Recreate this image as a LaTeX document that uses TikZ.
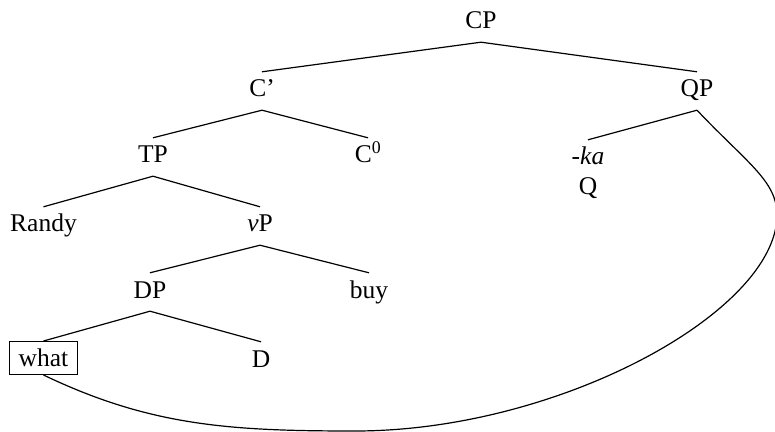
\documentclass[tikz,border=0pt]{standalone}
\usepackage{fontspec}
\setmainfont{Liberation Serif}
\usetikzlibrary{positioning}

\begin{document}
\begin{tikzpicture}[
      x=1pt, y=1pt,
      every node/.style={font=\fontsize{25.5}{30}\selectfont},
      cat/.style={anchor=base, inner xsep=9pt, inner ysep=8pt,
                  text height=17pt, text depth=5pt},
      branch/.style={line width=1.2pt},
      movement/.style={line width=1.2pt},
    ]
    \useasboundingbox (0,0) rectangle (775,431);

    \node[cat] (CP)    at (481, 402)   {CP};
    \node[cat] (Cbar)  at (262, 334)   {C’};
    \node[cat] (QP)    at (697, 334)   {QP};
    \node[cat] (TP)    at (153, 268)   {TP};
    \node[cat] (C0)    at (368, 268)   {C\textsuperscript{0}};
    \node[cat] (ka)    at (588, 266)   {\textit{-ka}};
    \node[cat] (Q)     at (588, 236)   {Q};
    \node[cat] (Randy) at (43.5, 199)  {Randy};
    \node[cat] (vP)    at (260, 199)   {\textit{v}P};
    \node[cat] (DP)    at (150, 133)   {DP};
    \node[cat] (buy)   at (369, 133)   {buy};
    \node[cat, draw, line width=1pt, text depth=0pt] (what) at (43.5, 64.5) {what};
    \node[cat] (D)     at (261, 64)    {D};

    \draw[branch] (CP.south) -- (Cbar.north);
    \draw[branch] (CP.south) -- (QP.north);
    \draw[branch] (Cbar.south) -- (TP.north);
    \draw[branch] (Cbar.south) -- (C0.north);
    \draw[branch] (QP.south) -- (ka.north);
    \draw[branch] (TP.south) -- (Randy.north);
    \draw[branch] (TP.south) -- (vP.north);
    \draw[branch] (vP.south) -- (DP.north);
    \draw[branch] (vP.south) -- (buy.north);
    \draw[branch] (DP.south) -- (what.north);
    \draw[branch] (DP.south) -- (D.north);

    % Q-feature linked to the wh-word
    \draw[movement] (QP.south) .. controls (747,268) and (777,250) .. (777,216)
      .. controls (777,120) and (560,0) .. (355,0)
      .. controls (230,0) and (150,5) .. (what.south);
  \end{tikzpicture}
\end{document}
